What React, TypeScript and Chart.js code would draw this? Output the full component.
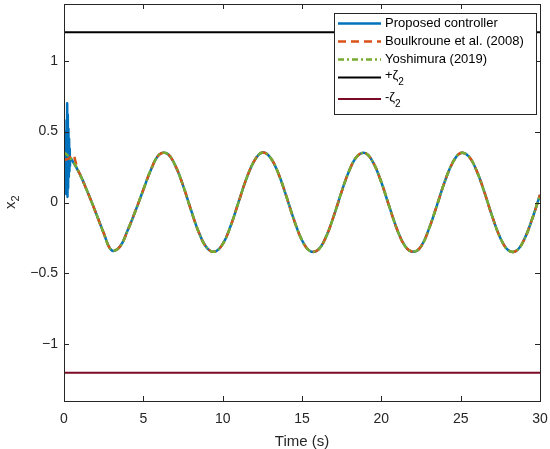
import { useEffect, useRef } from 'react';
import { Chart, registerables } from 'chart.js';

Chart.register(...registerables);

// time grid (s) and the common steady response
const timeS = [
  0, 0.5, 1, 1.5, 2, 2.5, 3, 3.5, 4, 4.5, 5, 5.5, 6, 6.5, 7, 7.5, 8, 8.5, 9, 9.5,
  10, 10.5, 11, 11.5, 12, 12.5, 13, 13.5, 14, 14.5, 15, 15.5, 16, 16.5, 17, 17.5, 18, 18.5, 19, 19.5,
  20, 20.5, 21, 21.5, 22, 22.5, 23, 23.5, 24, 24.5, 25, 25.5, 26, 26.5, 27, 27.5, 28, 28.5, 29, 29.5, 30,
];
const steadyX2 = [
  0.355, 0.3, 0.2, 0.07, -0.07, -0.215, -0.337, -0.315, -0.2, -0.06, 0.09, 0.237, 0.338, 0.345, 0.264, 0.121, -0.051, -0.211, -0.319, -0.347,
  -0.294, -0.166, 0.002, 0.169, 0.295, 0.352, 0.318, 0.208, 0.048, -0.124, -0.266, -0.342, -0.335, -0.246, -0.096, 0.077, 0.231, 0.329, 0.348, 0.279,
  0.143, -0.028, -0.192, -0.308, -0.348, -0.31, -0.186, -0.022, 0.148, 0.282, 0.349, 0.326, 0.226, 0.071, -0.102, -0.25, -0.337, -0.341, -0.262, -0.118, 0.054,
];

// transient at the start of each controller
const proposedStartT = [0, 0.02, 0.04, 0.06, 0.08, 0.1, 0.12, 0.14, 0.16, 0.18, 0.2, 0.22, 0.24, 0.26, 0.28, 0.3, 0.32, 0.34, 0.36, 0.38, 0.4];
const proposedStartX2 = [0.28, 0.1, 0.38, 0.08, 0.42, 0.12, 0.5, 0.06, 0.58, 0.15, 0.7, 0.04, 0.62, 0.1, 0.52, 0.18, 0.45, 0.22, 0.38, 0.26, 0.31];
const boulkrouneStartT = [0, 0.3, 0.45, 0.58, 0.7, 0.85];
const boulkrouneStartX2 = [0.3, 0.31, 0.325, 0.335, 0.3, 0.235];
const yoshimuraStartT: number[] = [];
const yoshimuraStartX2: number[] = [];

const zetaBound = 1.2;
const yTicks = [-1, -0.5, 0, 0.5, 1];

const FONT = '"Liberation Sans", Arial, Helvetica, sans-serif';
const AXIS_COLOR = '#262626';

function joinSeries(startT: number[], startY: number[], fromT: number) {
  const pts = startT.map((t, i) => ({ x: t, y: startY[i] }));
  timeS.forEach((t, i) => {
    if (t >= fromT) pts.push({ x: t, y: steadyX2[i] });
  });
  return pts;
}

// box, inward ticks on all sides, y label
const framePlugin = {
  id: 'frame',
  afterDatasetsDraw(chart: any) {
    const { ctx, chartArea, scales } = chart;
    const { left, right, top, bottom } = chartArea;
    const tl = 5;
    ctx.save();
    ctx.strokeStyle = AXIS_COLOR;
    ctx.lineWidth = 1;
    ctx.beginPath();
    scales.x.ticks.forEach((t: any) => {
      const px = Math.round(scales.x.getPixelForValue(t.value)) + 0.5;
      ctx.moveTo(px, bottom);
      ctx.lineTo(px, bottom - tl);
      ctx.moveTo(px, top);
      ctx.lineTo(px, top + tl);
    });
    scales.y.ticks.forEach((t: any) => {
      const py = Math.round(scales.y.getPixelForValue(t.value)) + 0.5;
      ctx.moveTo(left, py);
      ctx.lineTo(left + tl, py);
      ctx.moveTo(right, py);
      ctx.lineTo(right - tl, py);
    });
    ctx.stroke();
    ctx.strokeRect(Math.round(left) + 0.5, Math.round(top) + 0.5, Math.round(right - left), Math.round(bottom - top));

    // y axis title x_2
    ctx.fillStyle = AXIS_COLOR;
    ctx.translate(15, 209);
    ctx.rotate(-Math.PI / 2);
    ctx.textBaseline = 'alphabetic';
    ctx.textAlign = 'left';
    ctx.font = `15px ${FONT}`;
    ctx.fillText('x', 0, 0);
    const w = ctx.measureText('x').width;
    ctx.font = `11px ${FONT}`;
    ctx.fillText('2', w, 4);
    ctx.restore();
  },
};

const legendPlugin = {
  id: 'boxLegend',
  afterDraw(chart: any) {
    const { ctx, chartArea } = chart;
    const bw = 202;
    const bh = 101;
    const bx = Math.round(chartArea.right) - 4 - bw;
    const by = Math.round(chartArea.top) + 9;
    const rows = [10.5, 28.5, 46.5, 64.5, 86];
    ctx.save();
    ctx.fillStyle = '#ffffff';
    ctx.fillRect(bx, by, bw, bh);
    ctx.strokeStyle = AXIS_COLOR;
    ctx.lineWidth = 1;
    ctx.strokeRect(bx + 0.5, by + 0.5, bw, bh);
    chart.data.datasets.forEach((ds: any, i: number) => {
      const y = by + rows[i];
      ctx.strokeStyle = ds.borderColor;
      ctx.lineWidth = ds.borderWidth;
      ctx.setLineDash(ds.borderDash || []);
      ctx.beginPath();
      ctx.moveTo(bx + 4, y);
      ctx.lineTo(bx + 47, y);
      ctx.stroke();
      ctx.setLineDash([]);
      const [main, sub] = String(ds.label).split('_');
      ctx.fillStyle = '#000000';
      ctx.textAlign = 'left';
      ctx.textBaseline = 'middle';
      ctx.font = `13px ${FONT}`;
      const tx = bx + 51;
      if (sub) {
        ctx.fillText(main, tx, y - 2);
        const w = ctx.measureText(main).width;
        ctx.font = `10px ${FONT}`;
        ctx.fillText(sub, tx + w, y + 5);
      } else {
        ctx.fillText(main, tx, y);
      }
    });
    ctx.restore();
  },
};

export default function App() {
  const canvasRef = useRef<HTMLCanvasElement>(null);
  const chartRef = useRef<Chart | null>(null);

  useEffect(() => {
    document.body.style.margin = '0';
    if (!canvasRef.current) return;
    if (chartRef.current) chartRef.current.destroy();

    const ctx = canvasRef.current.getContext('2d');
    if (!ctx) return;

    chartRef.current = new Chart(ctx, {
      type: 'line',
      data: {
        datasets: [
          {
            label: 'Proposed controller',
            data: joinSeries(proposedStartT, proposedStartX2, 0.5),
            borderColor: '#0072BD',
            borderWidth: 2.5,
            order: 3,
          },
          {
            label: 'Boulkroune et al. (2008)',
            data: joinSeries(boulkrouneStartT, boulkrouneStartX2, 1.0),
            borderColor: '#D95319',
            borderWidth: 2.5,
            borderDash: [8, 5],
            order: 2,
          },
          {
            label: 'Yoshimura (2019)',
            data: joinSeries(yoshimuraStartT, yoshimuraStartX2, 0),
            borderColor: '#77AC30',
            borderWidth: 2.5,
            borderDash: [6, 3, 2, 3],
            order: 1,
          },
          {
            label: '+ζ_2',
            data: [{ x: 0, y: zetaBound }, { x: 30, y: zetaBound }],
            borderColor: '#000000',
            borderWidth: 2,
            order: 4,
          },
          {
            label: '-ζ_2',
            data: [{ x: 0, y: -zetaBound }, { x: 30, y: -zetaBound }],
            borderColor: '#7a0a26',
            borderWidth: 2,
            order: 5,
          },
        ],
      },
      options: {
        animation: false,
        responsive: true,
        maintainAspectRatio: false,
        layout: { padding: { top: 4, right: 10, left: 0, bottom: 0 } },
        elements: {
          point: { radius: 0 },
          line: { tension: 0.4, borderCapStyle: 'butt' },
        },
        scales: {
          x: {
            type: 'linear',
            min: 0,
            max: 30,
            ticks: {
              stepSize: 5,
              padding: 10,
              color: AXIS_COLOR,
              font: { family: FONT, size: 14 },
              maxRotation: 0,
            },
            grid: { display: false, drawTicks: false },
            border: { display: false },
            title: {
              display: true,
              text: 'Time (s)',
              color: AXIS_COLOR,
              font: { family: FONT, size: 15, lineHeight: 1 },
              padding: { top: 0, bottom: 0 },
            },
            afterFit: (scale: any) => {
              scale.height = 48;
              scale.paddingLeft = 0;
              scale.paddingRight = 0;
            },
          },
          y: {
            type: 'linear',
            min: -1.4,
            max: 1.4,
            afterBuildTicks: (scale: any) => {
              scale.ticks = yTicks.map((v) => ({ value: v }));
            },
            ticks: {
              padding: 6,
              color: AXIS_COLOR,
              font: { family: FONT, size: 14 },
              callback: (v: any) => (Number(v) < 0 ? '\u2212' + Math.abs(Number(v)) : String(v)),
            },
            grid: { display: false, drawTicks: false },
            border: { display: false },
            afterFit: (scale: any) => {
              scale.width = 64;
              scale.paddingTop = 0;
              scale.paddingBottom = 0;
            },
          },
        },
        plugins: {
          legend: { display: false },
          tooltip: { enabled: false },
        },
      },
      plugins: [framePlugin, legendPlugin],
    });

    return () => {
      if (chartRef.current) {
        chartRef.current.destroy();
        chartRef.current = null;
      }
    };
  }, []);

  return (
    <div style={{ width: 550, height: 449, position: 'relative' }}>
      <canvas ref={canvasRef} />
    </div>
  );
}
